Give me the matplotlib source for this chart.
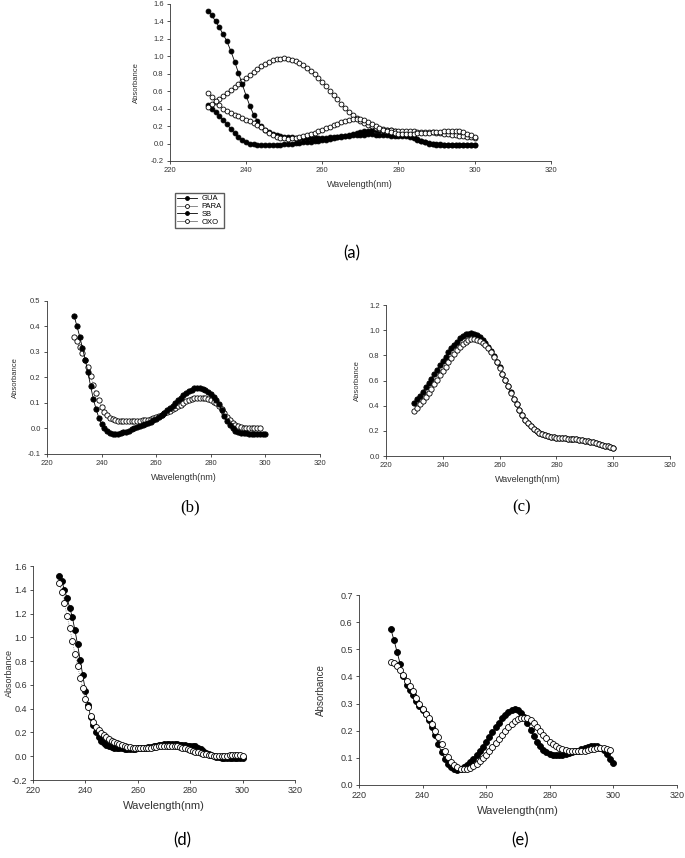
import numpy as np
import matplotlib.pyplot as plt

# wavelengths (nm), 1 nm step
wl = np.arange(230, 301)

# panel (b) -- GUA
gua_filled = [0.44, 0.40, 0.36, 0.315, 0.27, 0.22, 0.165, 0.115, 0.075, 0.042,
              0.018, 0.0, -0.01, -0.017, -0.02, -0.021, -0.02, -0.018, -0.015, -0.012,
              -0.008, -0.004, 0.0, 0.004, 0.008, 0.012, 0.017, 0.022, 0.027, 0.033,
              0.039, 0.046, 0.054, 0.062, 0.071, 0.08, 0.09, 0.10, 0.11, 0.12,
              0.13, 0.138, 0.146, 0.152, 0.157, 0.159, 0.158, 0.155, 0.150, 0.143,
              0.135, 0.125, 0.112, 0.095, 0.072, 0.048, 0.028, 0.012, 0.0, -0.008,
              -0.013, -0.016, -0.018, -0.019, -0.02, -0.02, -0.021, -0.021, -0.021, -0.021,
              -0.021]
gua_open = [0.36, 0.345, 0.32, 0.295, 0.27, 0.24, 0.205, 0.17, 0.138, 0.11,
            0.085, 0.066, 0.052, 0.043, 0.037, 0.033, 0.031, 0.03, 0.029, 0.029,
            0.029, 0.029, 0.03, 0.03, 0.031, 0.032, 0.033, 0.035, 0.038, 0.041,
            0.045, 0.049, 0.054, 0.059, 0.064, 0.07, 0.076, 0.082, 0.088, 0.094,
            0.10, 0.106, 0.111, 0.115, 0.118, 0.12, 0.121, 0.12, 0.118, 0.115,
            0.11, 0.105, 0.098, 0.09, 0.078, 0.062, 0.046, 0.032, 0.021, 0.013,
            0.008, 0.005, 0.003, 0.002, 0.002, 0.002, 0.002, 0.002, 0.002]

# panel (c) -- PARA
para_filled = [0.42, 0.45, 0.48, 0.51, 0.545, 0.58, 0.615, 0.65, 0.685, 0.72,
               0.755, 0.79, 0.825, 0.855, 0.885, 0.91, 0.935, 0.953, 0.966, 0.973,
               0.975, 0.97, 0.96, 0.945, 0.925, 0.9, 0.87, 0.835, 0.795, 0.75,
               0.705, 0.655, 0.605, 0.555, 0.505, 0.455, 0.41, 0.365, 0.325, 0.29,
               0.26, 0.235, 0.213, 0.196, 0.182, 0.172, 0.164, 0.158, 0.153, 0.149,
               0.146, 0.144, 0.142, 0.14, 0.139, 0.137, 0.135, 0.133, 0.13, 0.127,
               0.123, 0.119, 0.114, 0.108, 0.102, 0.096, 0.09, 0.083, 0.076, 0.069,
               0.062]
para_open = [0.36, 0.385, 0.41, 0.44, 0.47, 0.5, 0.535, 0.57, 0.605, 0.64,
             0.675, 0.71, 0.745, 0.78, 0.81, 0.84, 0.867, 0.89, 0.908, 0.92,
             0.928, 0.93, 0.925, 0.915, 0.9, 0.88, 0.855, 0.825, 0.79, 0.748,
             0.703, 0.654, 0.604, 0.554, 0.504, 0.455, 0.41, 0.365, 0.325, 0.29,
             0.26, 0.235, 0.213, 0.196, 0.182, 0.172, 0.164, 0.158, 0.153, 0.149,
             0.146, 0.144, 0.142, 0.14, 0.139, 0.137, 0.135, 0.133, 0.13, 0.127,
             0.123, 0.119, 0.114, 0.108, 0.102, 0.096, 0.09, 0.083, 0.076, 0.069,
             0.062]

# panel (d) -- SB
sb_filled = [1.52, 1.47, 1.40, 1.33, 1.25, 1.17, 1.06, 0.94, 0.81, 0.68,
             0.55, 0.43, 0.33, 0.26, 0.2, 0.16, 0.13, 0.11, 0.095, 0.085,
             0.078, 0.073, 0.07, 0.068, 0.066, 0.065, 0.064, 0.064, 0.064, 0.065,
             0.066, 0.068, 0.07, 0.073, 0.077, 0.081, 0.085, 0.089, 0.093, 0.097,
             0.10, 0.103, 0.105, 0.105, 0.103, 0.1, 0.096, 0.093, 0.091, 0.09,
             0.09, 0.088, 0.083, 0.073, 0.058, 0.042, 0.028, 0.016, 0.007, 0.0,
             -0.005, -0.009, -0.012, -0.014, -0.015, -0.016, -0.016, -0.017, -0.017, -0.017,
             -0.017]
sb_open = [1.46, 1.38, 1.29, 1.18, 1.08, 0.97, 0.86, 0.76, 0.66, 0.57,
           0.48, 0.41, 0.34, 0.29, 0.25, 0.22, 0.195, 0.175, 0.158, 0.143,
           0.13, 0.118, 0.108, 0.099, 0.092, 0.086, 0.081, 0.077, 0.073, 0.07,
           0.068, 0.067, 0.067, 0.068, 0.07, 0.072, 0.075, 0.078, 0.082, 0.085,
           0.088, 0.09, 0.09, 0.089, 0.086, 0.082, 0.078, 0.073, 0.067, 0.06,
           0.053, 0.046, 0.039, 0.032, 0.026, 0.02, 0.015, 0.011, 0.008, 0.006,
           0.005, 0.005, 0.005, 0.006, 0.006, 0.007, 0.008, 0.01, 0.012, 0.013,
           0.0]

# panel (e) -- OXO
oxo_filled = [0.575, 0.535, 0.49, 0.445, 0.4, 0.37, 0.35, 0.33, 0.31, 0.29,
              0.275, 0.26, 0.24, 0.215, 0.185, 0.15, 0.12, 0.095, 0.078, 0.067,
              0.06, 0.057, 0.06, 0.066, 0.075, 0.085, 0.097, 0.11, 0.125, 0.14,
              0.158, 0.176, 0.194, 0.212, 0.229, 0.245, 0.258, 0.269, 0.276, 0.279,
              0.276, 0.266, 0.25, 0.228, 0.204, 0.18, 0.16, 0.143, 0.13, 0.12,
              0.113, 0.11, 0.109, 0.11, 0.112, 0.115, 0.118, 0.121, 0.124, 0.127,
              0.131, 0.136, 0.141, 0.144, 0.145, 0.143, 0.138, 0.128, 0.113, 0.096,
              0.08]
oxo_open = [0.455, 0.45, 0.44, 0.425, 0.405, 0.385, 0.365, 0.345, 0.32, 0.3,
            0.28, 0.262, 0.245, 0.225, 0.2, 0.175, 0.15, 0.125, 0.102, 0.085,
            0.073, 0.065, 0.06, 0.058, 0.06, 0.064, 0.07, 0.078, 0.088, 0.1,
            0.112, 0.126, 0.14, 0.155, 0.17, 0.185, 0.2, 0.213, 0.225, 0.235,
            0.243, 0.247, 0.248, 0.245, 0.238, 0.228, 0.215, 0.2, 0.186, 0.172,
            0.16, 0.15, 0.142, 0.136, 0.131, 0.128, 0.126, 0.125, 0.125, 0.125,
            0.126, 0.127, 0.129, 0.131, 0.133, 0.135, 0.136, 0.136, 0.134, 0.13]

xticks = [220, 240, 260, 280, 300, 320]

plt.rcParams['font.family'] = ['Liberation Sans', 'DejaVu Sans']

fig = plt.figure(figsize=(6.85, 8.58), dpi=100)


def style(ax, ylim, ystep, fs, lfs):
    ax.set_xlim(220, 320)
    ax.set_ylim(*ylim)
    ax.set_xticks(xticks)
    ax.set_yticks(np.round(np.arange(ylim[0], ylim[1] + 1e-9, ystep), 2))
    ax.yaxis.set_major_formatter(plt.FormatStrFormatter('%.1f'))
    for s in ['top', 'right']:
        ax.spines[s].set_visible(False)
    for s in ['left', 'bottom']:
        ax.spines[s].set_linewidth(0.6)
        ax.spines[s].set_color('#333333')
    ax.tick_params(direction='out', length=2.5, width=0.6, labelsize=fs,
                   colors='#333333', pad=2)
    ax.set_xlabel('Wavelength(nm)', fontsize=lfs, color='#333333', labelpad=4)
    ax.set_ylabel('Absorbance', fontsize=lfs - 1, color='#333333', labelpad=6)


def series(ax, x, y, filled, ms, ls='-'):
    ax.plot(x, y, ls, color='black' if filled else '#777777', lw=0.6,
            marker='o', ms=ms, mfc='black' if filled else 'white',
            mec='black', mew=0.6)


# (a)
ax = fig.add_axes([0.248, 0.8124, 0.556, 0.183])
series(ax, wl, gua_filled, True, 3.5)
series(ax, wl, para_filled, False, 3.5)
series(ax, wl, sb_filled, True, 3.5)
series(ax, wl, oxo_filled, False, 3.5)
style(ax, (-0.2, 1.6), 0.2, 5.5, 6.5)
ax.yaxis.labelpad = 8
handles = ax.get_lines()
fig.legend(handles, ['GUA', 'PARA', 'SB', 'OXO'], loc='upper left',
           bbox_to_anchor=(171 / 685, 1 - 189 / 858), fontsize=5.5,
           frameon=True, fancybox=False, edgecolor='#333333', handlelength=2.6,
           handletextpad=0.6, labelspacing=0.05, borderpad=0.3, markerscale=0.8)
fig.text(352 / 685, 1 - 253 / 858, '(a)', ha='center', va='center',
         fontsize=12, family=['Lato', 'DejaVu Sans'])

# (b)
ax = fig.add_axes([0.0686, 0.4709, 0.3985, 0.1783])
series(ax, wl[:len(gua_open)], gua_open, False, 3.8, ':')
series(ax, wl, gua_filled, True, 3.8)
style(ax, (-0.1, 0.5), 0.1, 5.5, 6.5)
fig.text(190 / 685, 1 - 507 / 858, '(b)', ha='center', va='center',
         fontsize=12, family=['Liberation Serif', 'DejaVu Serif'])

# (c)
ax = fig.add_axes([0.5635, 0.4685, 0.4146, 0.176])
series(ax, wl, para_filled, True, 3.8)
series(ax, wl, para_open, False, 3.8, ':')
style(ax, (0.0, 1.2), 0.2, 5.5, 6.5)
fig.text(522 / 685, 1 - 507 / 858, '(c)', ha='center', va='center',
         fontsize=12, family=['Liberation Serif', 'DejaVu Serif'])

# (d)
ax = fig.add_axes([0.0482, 0.0909, 0.3825, 0.2494])
series(ax, wl, sb_filled, True, 4.3)
series(ax, wl, sb_open, False, 4.3, ':')
style(ax, (-0.2, 1.6), 0.2, 6.5, 8)
ax.yaxis.label.set_fontsize(6.5)
ax.yaxis.set_label_coords(-0.072, 0.5)
fig.text(182 / 685, 1 - 840 / 858, '(d)', ha='center', va='center',
         fontsize=12, family=['Lato', 'DejaVu Sans'])

# (e)
ax = fig.add_axes([0.524, 0.0851, 0.464, 0.2214])
series(ax, wl, oxo_filled, True, 4.3)
series(ax, wl[:len(oxo_open)], oxo_open, False, 4.3, ':')
style(ax, (0.0, 0.7), 0.1, 6.5, 8)
ax.yaxis.set_label_coords(-0.105, 0.5)
fig.text(520 / 685, 1 - 840 / 858, '(e)', ha='center', va='center',
         fontsize=12, family=['Lato', 'DejaVu Sans'])

fig.savefig('out.png', dpi=100)
